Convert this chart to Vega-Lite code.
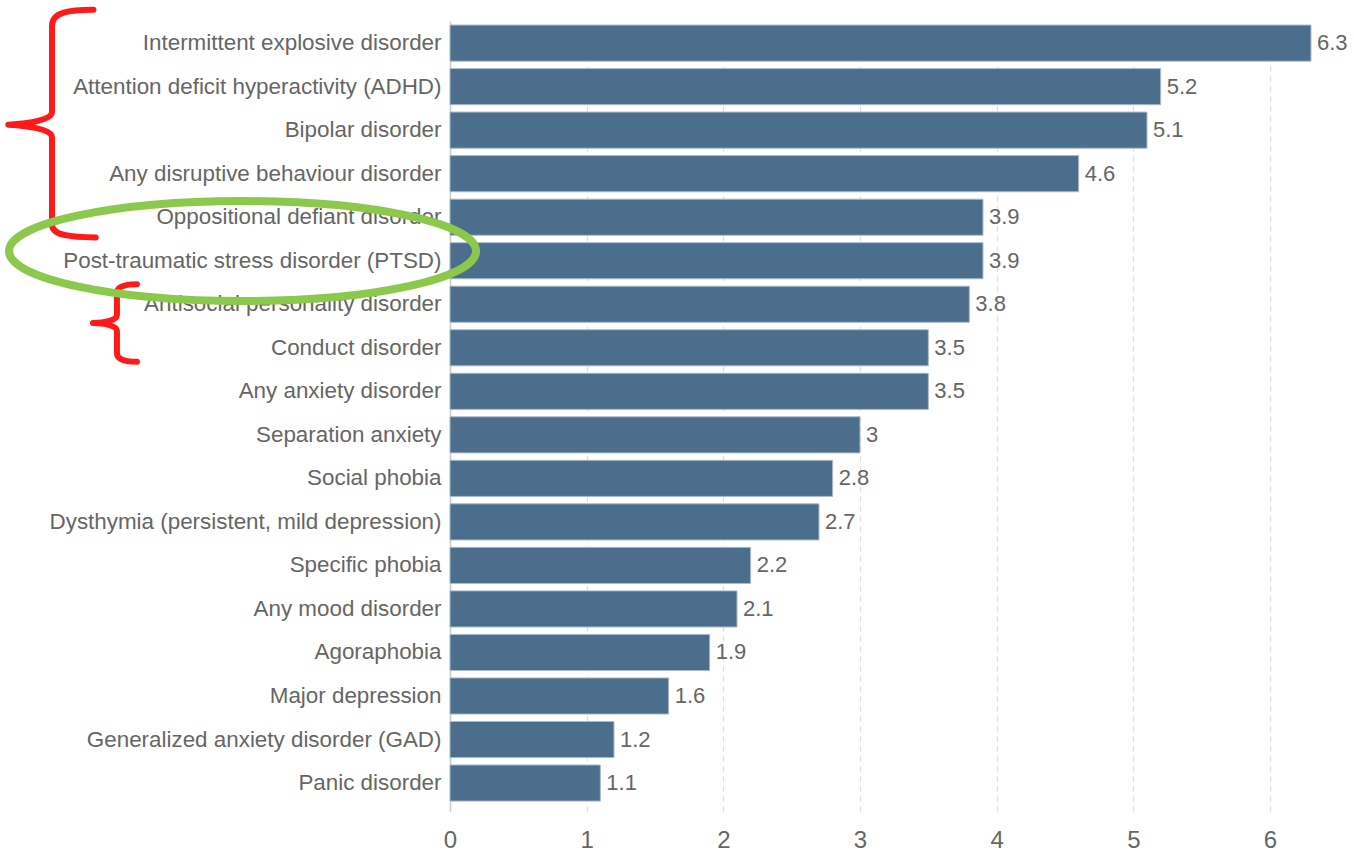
{
  "$schema": "https://vega.github.io/schema/vega-lite/v6.json",
  "width": 861,
  "height": 790,
  "autosize": {"type": "none"},
  "padding": {"left": 450, "top": 21, "right": 43, "bottom": 41},
  "background": "white",
  "config": {
    "view": {"stroke": null},
    "font": "Liberation Sans"
  },
  "layer": [
    {
      "data": {
        "values": [
          {"disorder": "Intermittent explosive disorder", "value": 6.3},
          {"disorder": "Attention deficit hyperactivity (ADHD)", "value": 5.2},
          {"disorder": "Bipolar disorder", "value": 5.1},
          {"disorder": "Any disruptive behaviour disorder", "value": 4.6},
          {"disorder": "Oppositional defiant disorder", "value": 3.9},
          {"disorder": "Post-traumatic stress disorder (PTSD)", "value": 3.9},
          {"disorder": "Antisocial personality disorder", "value": 3.8},
          {"disorder": "Conduct disorder", "value": 3.5},
          {"disorder": "Any anxiety disorder", "value": 3.5},
          {"disorder": "Separation anxiety", "value": 3},
          {"disorder": "Social phobia", "value": 2.8},
          {"disorder": "Dysthymia (persistent, mild depression)", "value": 2.7},
          {"disorder": "Specific phobia", "value": 2.2},
          {"disorder": "Any mood disorder", "value": 2.1},
          {"disorder": "Agoraphobia", "value": 1.9},
          {"disorder": "Major depression", "value": 1.6},
          {"disorder": "Generalized anxiety disorder (GAD)", "value": 1.2},
          {"disorder": "Panic disorder", "value": 1.1}
        ]
      },
      "encoding": {
        "y": {
          "field": "disorder",
          "type": "nominal",
          "sort": null,
          "scale": {"paddingInner": 0.17, "paddingOuter": 0.16, "align": 0.29},
          "axis": {
            "title": null,
            "ticks": false,
            "labelFontSize": 22.4,
            "labelColor": "#666666",
            "labelPadding": 9,
            "labelLimit": 0,
            "domainColor": "#cccccc",
            "domainWidth": 1.5
          }
        },
        "x": {
          "field": "value",
          "type": "quantitative",
          "scale": {"domain": [0, 6.3], "nice": false, "zero": true},
          "axis": {
            "title": null,
            "values": [0, 1, 2, 3, 4, 5, 6],
            "format": "d",
            "grid": true,
            "gridColor": "#dddddd",
            "gridDash": [5, 5],
            "gridWidth": 1.2,
            "domain": false,
            "ticks": false,
            "labelFlush": false,
            "labelFontSize": 24,
            "labelColor": "#666666",
            "labelPadding": 17
          }
        }
      },
      "layer": [
        {
          "mark": {"type": "bar", "color": "#4b6e8c", "stroke": "#a9bccc", "strokeWidth": 1}
        },
        {
          "mark": {"type": "text", "align": "left", "baseline": "middle", "dx": 6, "fontSize": 22, "color": "#666666"},
          "encoding": {"text": {"field": "value", "type": "quantitative"}}
        }
      ]
    },
    {
      "data": {"values": [{}]},
      "mark": {
        "type": "point",
        "shape": "M0.36,-0.99 C0.15,-0.99 0,-0.97 0,-0.85 L0,-0.1 C0,-0.03 -0.2,0 -0.38,0.01 C-0.2,0.02 0,0.05 0,0.12 L0,0.88 C0,0.97 0.15,0.99 0.38,0.99",
        "size": 52900,
        "filled": false,
        "stroke": "#ff1a1a",
        "strokeWidth": 6,
        "strokeCap": "round",
        "strokeJoin": "round",
        "opacity": 1,
        "yOffset": -6.6
      },
      "encoding": {
        "x": {"datum": -2.912, "type": "quantitative"},
        "y": {"datum": "Bipolar disorder", "type": "nominal"}
      }
    },
    {
      "data": {"values": [{}]},
      "mark": {
        "type": "point",
        "shape": "M0.5,-0.97 C0.15,-0.97 0,-0.9 0,-0.75 L0,-0.2 C0,-0.07 -0.3,0 -0.6,0 C-0.3,0 0,0.07 0,0.2 L0,0.75 C0,0.9 0.15,0.97 0.5,0.97",
        "size": 6400,
        "filled": false,
        "stroke": "#ff1a1a",
        "strokeWidth": 6,
        "strokeCap": "round",
        "strokeJoin": "round",
        "opacity": 1,
        "yOffset": 18.7
      },
      "encoding": {
        "x": {"datum": -2.437, "type": "quantitative"},
        "y": {"datum": "Antisocial personality disorder", "type": "nominal"}
      }
    },
    {
      "data": {"values": [{}]},
      "mark": {
        "type": "point",
        "shape": "M1,0 C1,0.1182 0.5523,0.214 0,0.214 C-0.5523,0.214 -1,0.1182 -1,0 C-1,-0.1182 -0.5523,-0.214 0,-0.214 C0.5523,-0.214 1,-0.1182 1,0 Z",
        "size": 218089,
        "filled": false,
        "stroke": "#8cc84b",
        "strokeWidth": 8,
        "opacity": 1,
        "yOffset": -9.7
      },
      "encoding": {
        "x": {"datum": -1.518, "type": "quantitative"},
        "y": {"datum": "Post-traumatic stress disorder (PTSD)", "type": "nominal"}
      }
    }
  ]
}
